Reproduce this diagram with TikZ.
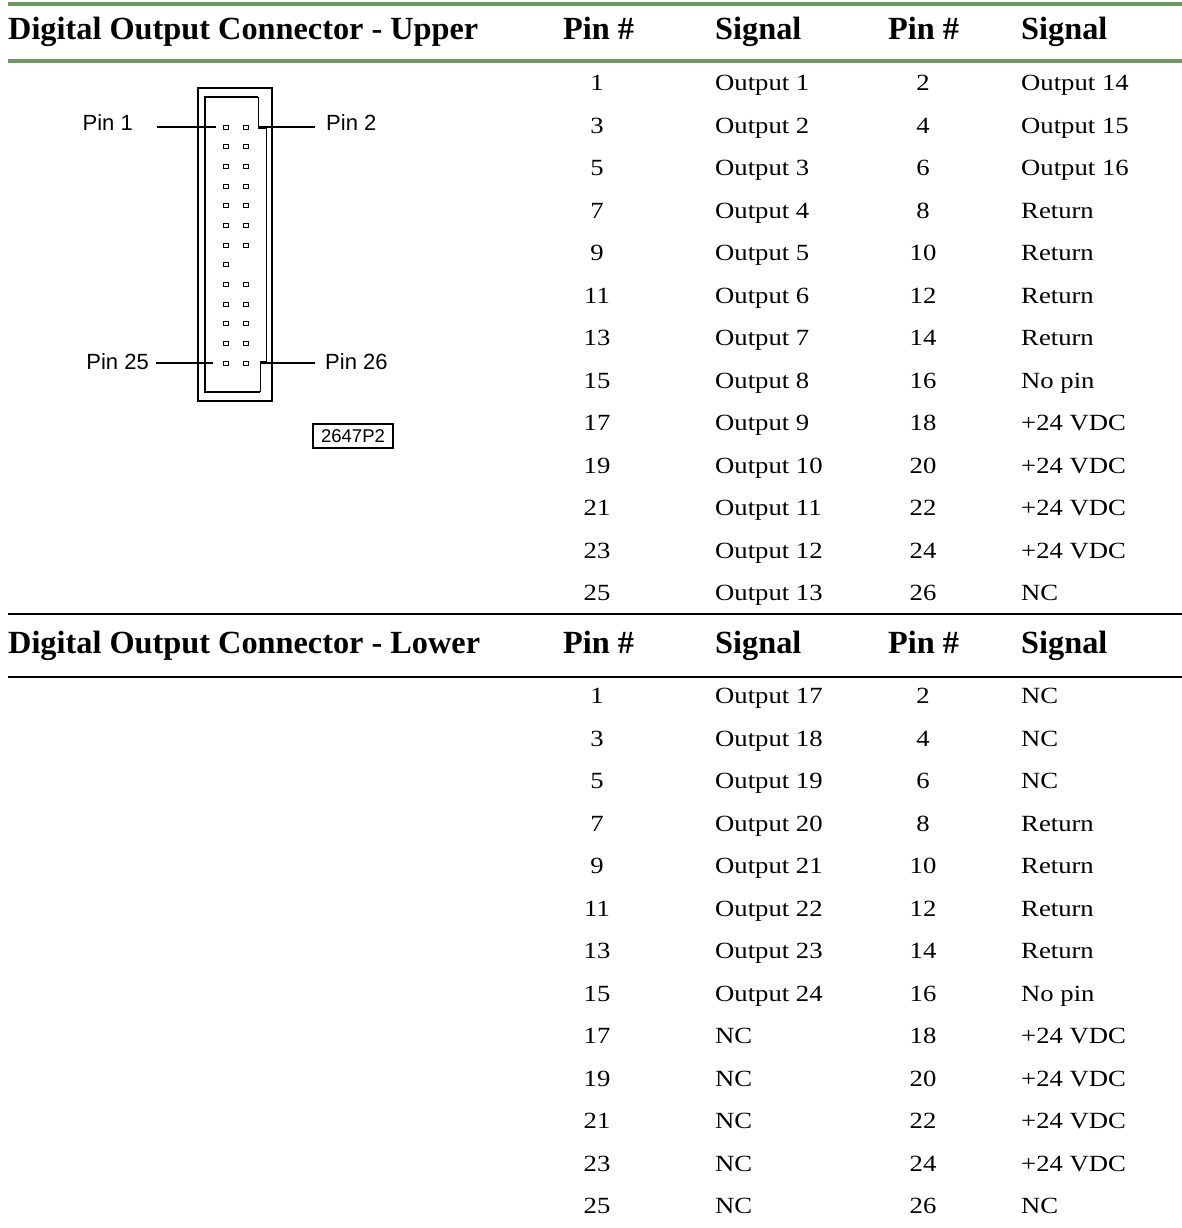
\documentclass[tikz,border=0pt]{standalone}
\usepackage{fontspec}
\setmainfont{Liberation Serif}
\setsansfont{Liberation Sans}
\newfontfamily\cellfont{Liberation Serif}[FakeStretch=1.15]
\definecolor{rulegreen}{RGB}{107,152,96}

\begin{document}
\begin{tikzpicture}[x=1pt, y=-1pt,
	head/.style={font=\fontsize{32.3}{36}\selectfont\bfseries, inner sep=0pt, anchor=base west},
	cell/.style={font=\cellfont\fontsize{23.2}{26}\selectfont, inner sep=0pt},
	pinlbl/.style={font=\sffamily\fontsize{22}{26}\selectfont, inner sep=0pt},
	pinsq/.style={draw, line width=0.9pt, minimum width=5pt, minimum height=4pt, inner sep=0pt},
	lead/.style={line width=1.6pt}]
	\useasboundingbox (0,0) rectangle (1182,1228);

	% rules
	\draw[rulegreen, line width=4pt] (8,4) -- (1182,4);
	\draw[rulegreen, line width=3.5pt] (8,61) -- (1182,61);
	\draw[line width=1.6pt] (8,614) -- (1182,614);
	\draw[line width=1.6pt] (8,677) -- (1182,677);

	% headers
	\node[head] (uh) at (8,40) {Digital Output Connector - Upper};
	\node[head] (uha) at (563,40) {Pin \#};
	\node[head] (uhb) at (715,40) {Signal};
	\node[head] (uhc) at (888,40) {Pin \#};
	\node[head] (uhd) at (1021,40) {Signal};
	\node[head] (lh) at (8,653) {Digital Output Connector - Lower};
	\node[head] (lha) at (563,653) {Pin \#};
	\node[head] (lhb) at (715,653) {Signal};
	\node[head] (lhc) at (888,653) {Pin \#};
	\node[head] (lhd) at (1021,653) {Signal};

	% upper table
	\foreach \pa/\sa/\pb/\sb [count=\i from 0] in {1/Output 1/2/Output 14, 3/Output 2/4/Output 15,
		5/Output 3/6/Output 16, 7/Output 4/8/Return, 9/Output 5/10/Return, 11/Output 6/12/Return,
		13/Output 7/14/Return, 15/Output 8/16/No pin, 17/Output 9/18/+24 VDC, 19/Output 10/20/+24 VDC,
		21/Output 11/22/+24 VDC, 23/Output 12/24/+24 VDC, 25/Output 13/26/NC}{
		\node[cell, anchor=base] (ua\i) at (597,90.5+42.5*\i) {\pa};
		\node[cell, anchor=base west] (ub\i) at (715,90.5+42.5*\i) {\sa};
		\node[cell, anchor=base] (uc\i) at (923,90.5+42.5*\i) {\pb};
		\node[cell, anchor=base west] (ud\i) at (1021,90.5+42.5*\i) {\sb};
	}

	% lower table
	\foreach \pa/\sa/\pb/\sb [count=\i from 0] in {1/Output 17/2/NC, 3/Output 18/4/NC,
		5/Output 19/6/NC, 7/Output 20/8/Return, 9/Output 21/10/Return, 11/Output 22/12/Return,
		13/Output 23/14/Return, 15/Output 24/16/No pin, 17/NC/18/+24 VDC, 19/NC/20/+24 VDC,
		21/NC/22/+24 VDC, 23/NC/24/+24 VDC, 25/NC/26/NC}{
		\node[cell, anchor=base] (la\i) at (597,703.5+42.5*\i) {\pa};
		\node[cell, anchor=base west] (lb\i) at (715,703.5+42.5*\i) {\sa};
		\node[cell, anchor=base] (lc\i) at (923,703.5+42.5*\i) {\pb};
		\node[cell, anchor=base west] (ld\i) at (1021,703.5+42.5*\i) {\sb};
	}

	% connector body
	\draw[line width=1.3pt] (198,88) rectangle (272,401);
	\draw[line width=2.2pt] (258,97) -| (205,392) -- (260,392);
	\draw[line width=0.9pt] (258,97) -- (258,128) -- (266,128) -- (266,361) -- (260,361) -- (260,392);

	% pins
	\foreach \r in {0,...,12}{
		\pgfmathtruncatemacro{\na}{2*\r+1}
		\pgfmathtruncatemacro{\nb}{2*\r+2}
		\node[pinsq] (p\na) at (226,127+19.67*\r) {};
		\ifnum\r=7\else\node[pinsq] (p\nb) at (246,127+19.67*\r) {};\fi
	}

	% pin labels
	\node[pinlbl, anchor=base east] (l1) at (133,131) {Pin 1};
	\node[pinlbl, anchor=base west] (l2) at (326,131) {Pin 2};
	\node[pinlbl, anchor=base east] (l25) at (149,369) {Pin 25};
	\node[pinlbl, anchor=base west] (l26) at (325,369) {Pin 26};
	\draw[lead] ([xshift=24pt]l1.east |- p1.west) -- ([xshift=-7pt]p1.west);
	\draw[lead] ([xshift=9pt]p2.east) -- ([xshift=-11pt]l2.west |- p2.east);
	\draw[lead] ([xshift=7pt]l25.east |- p25.west) -- ([xshift=-10pt]p25.west);
	\draw[lead] ([xshift=12pt]p26.east) -- ([xshift=-10pt]l26.west |- p26.east);

	\node[draw, line width=1.4pt, font=\sffamily\fontsize{18.5}{20}\selectfont, minimum width=80pt, minimum height=24pt, inner sep=0pt] (tag) at (353,436) {2647P2};
\end{tikzpicture}
\end{document}
